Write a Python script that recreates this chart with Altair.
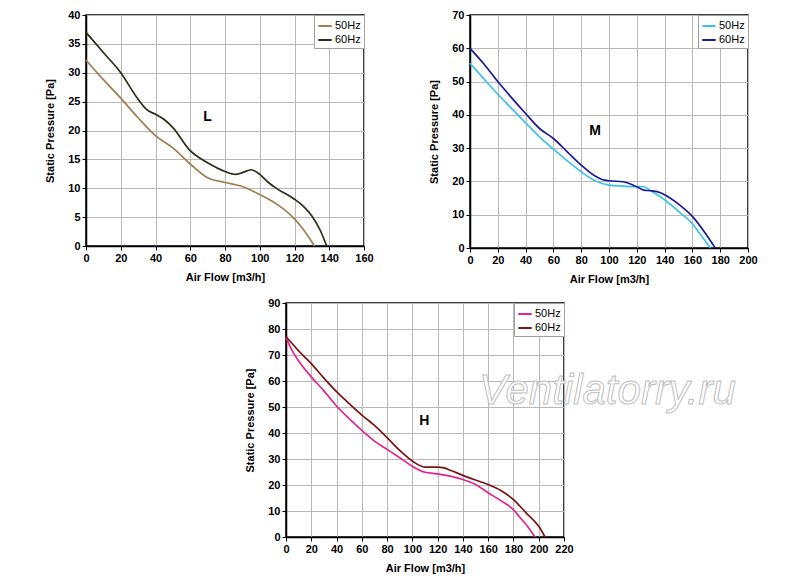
import pandas as pd
import altair as alt

# --- L panel (fan speed L) ---
L_X_50 = [0, 10, 20, 30, 40, 50, 60, 70, 80, 90, 100, 110, 120, 125, 131.5]
L_Y_50 = [32.2, 28.8, 25.6, 22.2, 19.1, 17.0, 14.2, 11.8, 11.0, 10.3, 8.9, 7.2, 4.7, 2.9, 0]
L_X_60 = [0, 10, 20, 30, 35, 40, 45, 50, 60, 70, 80, 86, 90, 95, 100, 105, 110, 120, 125, 130, 135, 138.5]
L_Y_60 = [37.0, 33.5, 30.0, 25.4, 23.6, 22.8, 21.9, 20.5, 16.5, 14.4, 12.9, 12.4, 12.7, 13.2, 12.4, 11.0, 9.9, 8.1, 6.9, 5.2, 2.6, 0]

# --- M panel ---
M_X_50 = [0, 10, 20, 30, 40, 50, 60, 70, 80, 90, 100, 110, 120, 125, 130, 140, 150, 160, 165, 173]
M_Y_50 = [55.5, 50.8, 46.2, 41.9, 37.6, 33.4, 29.7, 26.2, 22.9, 20.2, 18.9, 18.6, 18.4, 18.4, 17.2, 14.5, 11.0, 7.3, 4.5, 0]
M_X_60 = [0, 10, 20, 30, 40, 50, 60, 70, 80, 90, 95, 100, 110, 120, 125, 130, 137, 140, 150, 160, 170, 176.5]
M_Y_60 = [60.0, 55.3, 50.0, 45.1, 40.4, 35.9, 32.9, 28.9, 24.9, 21.6, 20.6, 20.2, 19.9, 18.4, 17.4, 17.2, 16.6, 16.0, 13.2, 9.5, 4.0, 0]

# --- H panel ---
H_X_50 = [0, 5, 10, 20, 30, 40, 50, 60, 70, 80, 90, 100, 110, 120, 130, 140, 150, 160, 170, 180, 185, 190, 197]
H_Y_50 = [76.7, 71.6, 67.7, 61.6, 56.2, 50.4, 45.5, 41.0, 36.9, 33.7, 30.5, 27.2, 24.9, 24.3, 23.4, 22.1, 20.2, 17.0, 14.0, 10.5, 7.6, 4.8, 0]
H_X_60 = [0, 10, 20, 30, 40, 50, 60, 70, 80, 90, 100, 110, 120, 125, 130, 140, 150, 160, 170, 180, 190, 200, 205]
H_Y_60 = [77.1, 71.6, 66.7, 61.1, 55.9, 51.3, 46.9, 42.9, 38.2, 33.3, 29.2, 26.9, 26.9, 26.6, 25.7, 23.7, 21.9, 20.2, 17.9, 14.4, 9.3, 4.1, 0]

SERIES = ["50Hz", "60Hz"]
W = 278


def panel_frame(x50, y50, x60, y60):
    a = pd.DataFrame({"flow": x50, "pressure": y50, "series": "50Hz"})
    b = pd.DataFrame({"flow": x60, "pressure": y60, "series": "60Hz"})
    return pd.concat([a, b], ignore_index=True)


def panel(df, xmax, ymax, ystep, colors, tag, tag_x, tag_y):
    x_enc = alt.X("flow:Q", title="Air Flow [m3/h]",
                  scale=alt.Scale(domain=[0, xmax], nice=False),
                  axis=alt.Axis(values=list(range(0, xmax + 1, 20))))
    y_enc = alt.Y("pressure:Q", title="Static Pressure [Pa]",
                  scale=alt.Scale(domain=[0, ymax], nice=False),
                  axis=alt.Axis(values=list(range(0, ymax + 1, ystep))))
    lines = alt.Chart(df).mark_line(interpolate="monotone", strokeWidth=1.7).encode(
        x=x_enc,
        y=y_enc,
        color=alt.Color("series:N", title=None,
                        scale=alt.Scale(domain=SERIES, range=colors),
                        legend=alt.Legend(orient="top-right", offset=0)),
        detail="series:N",
    )
    label = alt.Chart(pd.DataFrame({"flow": [tag_x], "pressure": [tag_y], "t": [tag]})).mark_text(
        fontSize=14, fontWeight="bold", font="Liberation Sans", color="black"
    ).encode(x=x_enc, y=y_enc, text="t:N")
    return lines, label


l_lines, l_tag = panel(panel_frame(L_X_50, L_Y_50, L_X_60, L_Y_60), 160, 40, 5,
                       ["#a07e50", "#2a2e18"], "L", 70, 22.3)
m_lines, m_tag = panel(panel_frame(M_X_50, M_Y_50, M_X_60, M_Y_60), 200, 70, 10,
                       ["#3cc2ea", "#1a1a96"], "M", 90, 35.1)
h_lines, h_tag = panel(panel_frame(H_X_50, H_Y_50, H_X_60, H_Y_60), 220, 90, 10,
                       ["#e0248e", "#7c1414"], "H", 109.5, 44.6)

watermark = alt.Chart(pd.DataFrame({"t": ["Ventilatorry.ru"]})).mark_text(
    fontSize=42, fontStyle="italic", font="Liberation Sans", align="left",
    baseline="alphabetic", fill="white", fillOpacity=0.85, stroke="#c0c0c0", strokeWidth=1
).encode(x=alt.value(193), y=alt.value(101), text="t:N")

chart_l = alt.layer(l_lines, l_tag).properties(width=W, height=231)
chart_m = alt.layer(m_lines, m_tag).properties(width=W, height=233)
chart_h = alt.layer(h_lines, watermark, h_tag).properties(width=W, height=234)

spacer = alt.Chart(pd.DataFrame({"a": [0]})).mark_point(opacity=0).encode(
    x=alt.value(0), y=alt.value(0)
).properties(width=157, height=10, view=alt.ViewBackground(stroke="transparent"))

top = alt.hconcat(chart_l, chart_m, spacing=54).resolve_scale(color="independent")
bottom = alt.hconcat(spacer, chart_h, spacing=0).resolve_scale(color="independent")

chart = alt.vconcat(top, bottom, spacing=11).resolve_scale(
    color="independent"
).properties(
    padding={"left": 36, "top": 0, "right": 5, "bottom": 5}
).configure_view(
    stroke="black", strokeWidth=1.5
).configure_axis(
    labelFont="Liberation Sans", labelFontSize=11, labelFontWeight="bold", labelColor="black",
    titleFont="Liberation Sans", titleFontSize=11, titleFontWeight="bold", titleColor="black",
    domainColor="black", domainWidth=1.5, tickColor="black", tickSize=4, tickWidth=1,
    gridColor="#b8b8b8", gridWidth=1, labelPadding=2, labelFlush=False, labelOverlap=False
).configure_axisY(
    titlePadding=12
).configure_axisX(
    titlePadding=8
).configure_legend(
    labelFont="Liberation Sans", labelFontSize=11, labelColor="black",
    symbolType="stroke", symbolSize=180, symbolStrokeWidth=2,
    fillColor="white", strokeColor="#a0a0a0", padding=3, rowPadding=1,
    labelOffset=2, cornerRadius=0
)

chart.save("out.html", embed_options={"renderer": "svg", "actions": False})
